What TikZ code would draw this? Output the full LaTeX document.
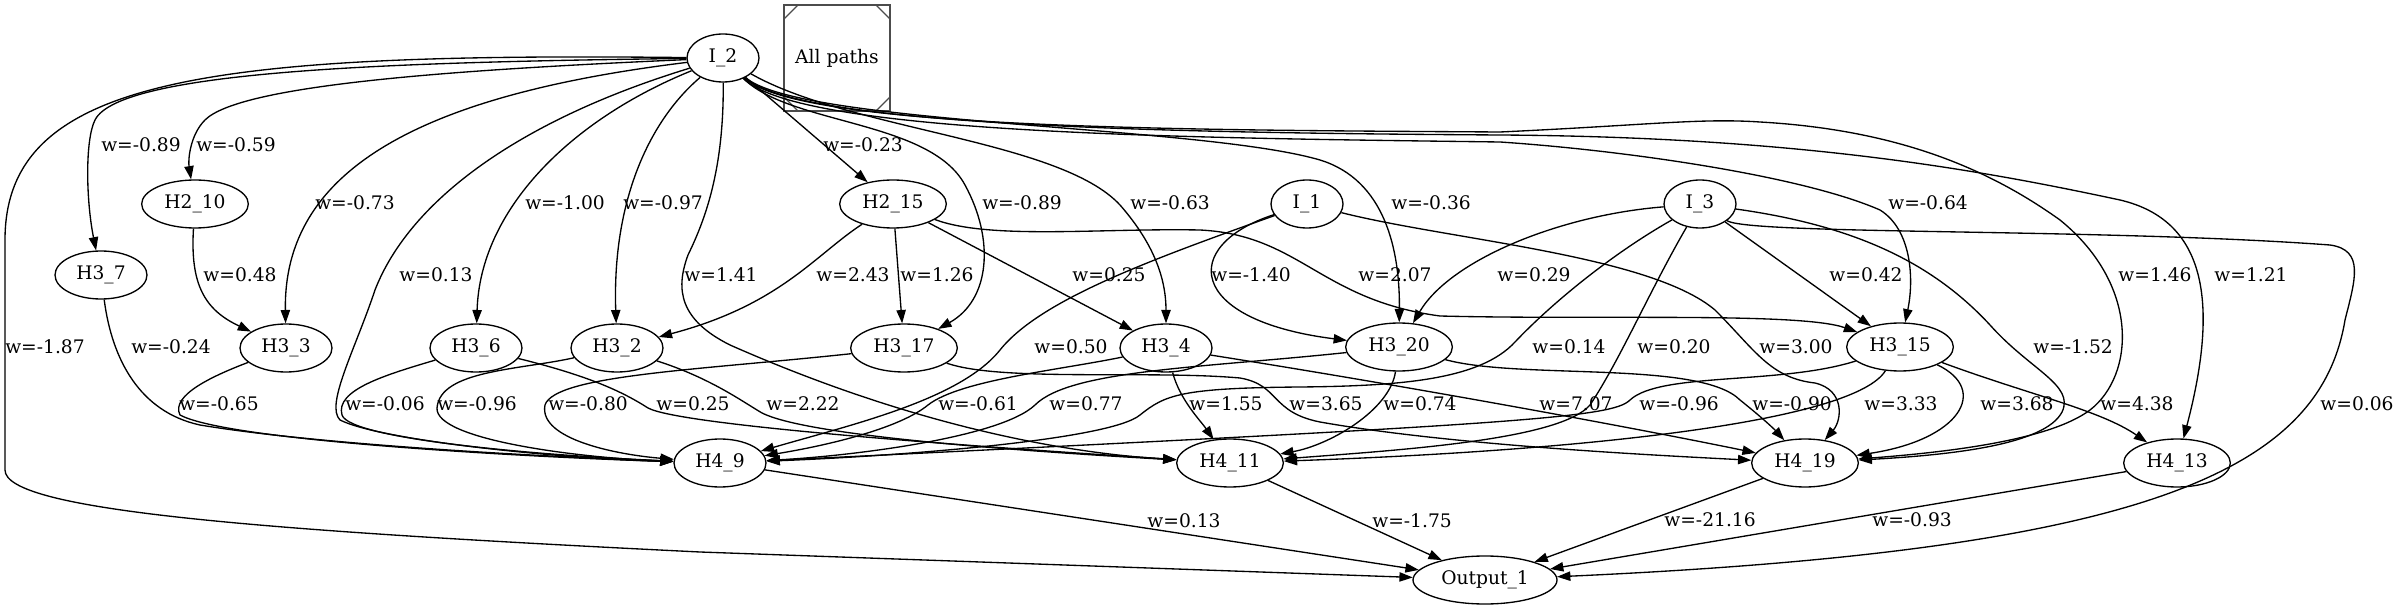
\documentclass[tikz,border=0pt]{standalone}
\usepackage{fontspec}
\setmainfont{DejaVu Serif}
\usetikzlibrary{shapes.geometric,arrows.meta}
\begin{document}
\begin{tikzpicture}[x=0.75pt,y=-0.75pt,
  every node/.style={font=\fontsize{14pt}{16pt}\selectfont},
  nd/.style={draw,ellipse,line width=1pt,inner sep=0pt,minimum height=36pt},
  nfour/.style={nd,minimum width=69pt},
  nfive/.style={nd,minimum width=80pt},
  ninp/.style={nd,minimum width=54pt},
  lab/.style={inner sep=0pt},
  wire/.style={draw,line width=1pt,-{Triangle[length=10pt,width=7pt]}}
]
\useasboundingbox (0,0) rectangle (2401,609);

% nodes
\node[ninp] (I2) at (723,58) {I\_2};
\node[draw=black!70,line width=1.3pt,minimum width=80pt,minimum height=80pt,inner sep=0pt,outer sep=0pt] (box) at (837,58) {All paths};
\draw[black!70,line width=1pt] ([yshift=-11pt]box.north west) -- ([xshift=11pt]box.north west);
\draw[black!70,line width=1pt] ([yshift=-11pt]box.north east) -- ([xshift=-11pt]box.north east);
\draw[black!70,line width=1pt] ([yshift=11pt]box.south west) -- ([xshift=11pt]box.south west);
\draw[black!70,line width=1pt] ([yshift=11pt]box.south east) -- ([xshift=-11pt]box.south east);

\node[nfive] (H210) at (195,204) {H2\_10};
\node[nfour] (H37) at (101,275) {H3\_7};
\node[nfour] (H33) at (286,348) {H3\_3};
\node[nfour] (H36) at (476,348) {H3\_6};
\node[nfour] (H32) at (617,348) {H3\_2};
\node[nfive] (H215) at (893,204) {H2\_15};
\node[nfive] (H317) at (904,348) {H3\_17};
\node[nfour] (H34) at (1166,348) {H3\_4};
\node[ninp] (I1) at (1307,204) {I\_1};
\node[nfive] (H320) at (1399,347) {H3\_20};
\node[ninp] (I3) at (1700,204) {I\_3};
\node[nfive] (H315) at (1900,347) {H3\_15};
\node[nfour] (H49) at (720,463) {H4\_9};
\node[nfive] (H411) at (1230,463) {H4\_11};
\node[nfive] (H419) at (1805,463) {H4\_19};
\node[nfive] (H413) at (2177,463) {H4\_13};
\node[nd,minimum width=108pt] (Out) at (1485,580) {Output\_1};

% edges from I_2
\draw[wire] (I2) .. controls (400,62) and (120,70) .. (95,120) .. controls (85,140) and (86,200) .. (H37);
\draw[wire] (I2) .. controls (450,70) and (240,85) .. (205,120) .. controls (190,135) and (188,160) .. (H210);
\draw[wire] (I2) .. controls (420,95) and (283,170) .. (H33);
\draw[wire] (I2) .. controls (520,120) and (410,200) .. (375,290) .. controls (355,350) and (325,405) .. (340,420) .. controls (380,440) and (550,458) .. (H49);
\draw[wire] (I2) .. controls (570,120) and (480,210) .. (H36);
\draw[wire] (I2) .. controls (650,120) and (612,200) .. (H32);
\draw[wire] (I2) .. controls (724,170) and (705,220) .. (688,255) .. controls (675,290) and (680,320) .. (730,345) .. controls (900,420) and (1050,452) .. (H411);
\draw[wire] (I2) -- (H215);
\draw[wire] (I2) .. controls (790,125) and (930,120) .. (965,185) .. controls (995,240) and (990,300) .. (H317);
\draw[wire] (I2) .. controls (850,130) and (1060,140) .. (1120,205) .. controls (1155,245) and (1166,280) .. (H34);
\draw[wire] (I2) .. controls (800,125) and (1200,125) .. (1320,160) .. controls (1385,180) and (1400,250) .. (H320);
\draw[wire] (I2) .. controls (800,135) and (1200,138) .. (1500,142) .. controls (1620,150) and (1800,175) .. (1880,210) .. controls (1912,230) and (1914,280) .. (H315);
\draw[wire] (I2) .. controls (800,130) and (1200,130) .. (1500,132) .. controls (1650,125) and (1700,118) .. (1760,122) .. controls (1900,130) and (1990,170) .. (2060,220) .. controls (2140,285) and (2135,375) .. (2090,410) .. controls (2050,440) and (1950,452) .. (H419);
\draw[wire] (I2) .. controls (800,128) and (1200,133) .. (1500,135) .. controls (1800,137) and (1980,170) .. (2120,200) .. controls (2205,220) and (2220,300) .. (H413);
\draw[wire] (I2) .. controls (200,52) and (5,80) .. (5,240) -- (5,470) .. controls (5,510) and (250,530) .. (700,552) -- (Out);

% layer 2/3 edges
\draw[wire] (H210) .. controls (190,285) and (205,310) .. (H33);
\draw[wire] (H37) .. controls (112,360) and (140,412) .. (200,425) .. controls (320,445) and (550,457) .. (H49);
\draw[wire] (H33) .. controls (215,375) and (170,395) .. (180,415) .. controls (230,442) and (550,458) .. (H49);
\draw[wire] (H36) .. controls (385,375) and (335,390) .. (342,415) .. controls (350,440) and (550,456) .. (H49);
\draw[wire] (H36) .. controls (585,375) and (620,390) .. (648,408) .. controls (680,425) and (950,445) .. (H411);
\draw[wire] (H32) .. controls (520,370) and (440,370) .. (437,408) .. controls (435,440) and (580,458) .. (H49);
\draw[wire] (H32) .. controls (710,378) and (740,400) .. (762,413) .. controls (800,432) and (950,447) .. (H411);
\draw[wire] (H215) .. controls (815,255) and (780,305) .. (H32);
\draw[wire] (H215) -- (H317);
\draw[wire] (H215) -- (H34);
\draw[wire] (H215) .. controls (990,240) and (1100,228) .. (1200,230) .. controls (1300,235) and (1320,300) .. (1440,316) .. controls (1600,320) and (1800,312) .. (H315);
\draw[wire] (H317) .. controls (700,370) and (555,375) .. (545,405) .. controls (538,440) and (620,455) .. (H49);
\draw[wire] (H317) .. controls (1000,382) and (1150,370) .. (1240,378) .. controls (1280,385) and (1270,412) .. (1320,422) .. controls (1450,445) and (1650,455) .. (H419);
\draw[wire] (H34) .. controls (1060,370) and (960,380) .. (928,405) .. controls (900,428) and (830,445) .. (H49);
\draw[wire] (H34) .. controls (1180,400) and (1200,420) .. (H411);
\draw[wire] (H34) .. controls (1400,385) and (1620,425) .. (H419);
\draw[wire] (I1) .. controls (1150,260) and (1040,300) .. (1000,350) .. controls (960,400) and (850,425) .. (H49);
\draw[wire] (I1) .. controls (1180,245) and (1185,320) .. (H320);
\draw[wire] (I1) .. controls (1450,240) and (1650,255) .. (1715,310) .. controls (1755,350) and (1770,378) .. (1815,383) .. controls (1845,390) and (1842,420) .. (H419);
\draw[wire] (H320) .. controls (1200,368) and (1070,370) .. (1035,405) .. controls (1000,438) and (850,456) .. (H49);
\draw[wire] (H320) .. controls (1390,410) and (1330,445) .. (H411);
\draw[wire] (H320) .. controls (1520,380) and (1700,360) .. (1740,400) .. controls (1765,420) and (1775,430) .. (H419);
\draw[wire] (I3) .. controls (1560,215) and (1450,260) .. (H320);
\draw[wire] (I3) .. controls (1610,255) and (1550,305) .. (1515,342) .. controls (1480,380) and (1400,386) .. (1300,387) .. controls (1180,388) and (1165,395) .. (1140,415) .. controls (1110,440) and (900,456) .. (H49);
\draw[wire] (I3) .. controls (1650,290) and (1620,360) .. (1590,405) .. controls (1560,440) and (1400,450) .. (H411);
\draw[wire] (I3) -- (H315);
\draw[wire] (I3) .. controls (1850,225) and (1930,260) .. (1990,325) .. controls (2030,370) and (2075,385) .. (2062,412) .. controls (2045,445) and (1950,455) .. (H419);
\draw[wire] (I3) .. controls (1750,235) and (2100,228) .. (2330,245) .. controls (2365,250) and (2355,280) .. (2345,320) .. controls (2320,470) and (2150,550) .. (Out);
\draw[wire] (H315) .. controls (1780,385) and (1660,372) .. (1630,400) .. controls (1612,418) and (1520,424) .. (H49);
\draw[wire] (H315) .. controls (1855,420) and (1600,450) .. (H411);
\draw[wire] (H315) .. controls (1990,390) and (1960,440) .. (H419);
\draw[wire] (H315) .. controls (2030,395) and (2100,410) .. (H413);
\draw[wire] (H49) -- (Out);
\draw[wire] (H411) -- (Out);
\draw[wire] (H419) -- (Out);
\draw[wire] (H413) -- (Out);

% labels
\node[lab] (a1) at (141,145) {w=-0.89};
\node[lab] (a2) at (236,145) {w=-0.59};
\node[lab] (a3) at (355,203) {w=-0.73};
\node[lab] (a4) at (565,203) {w=-1.00};
\node[lab] (a5) at (663,203) {w=-0.97};
\node[lab] (a6) at (436,275) {w=0.13};
\node[lab] (a7) at (721,275) {w=1.41};
\node[lab] (a8) at (240,275) {w=0.48};
\node[lab] (a9) at (45,347) {w=-1.87};
\node[lab] (a10) at (171,347) {w=-0.24};
\node[lab] (a11) at (219,404) {w=-0.65};
\node[lab] (a12) at (385,404) {w=-0.06};
\node[lab] (a13) at (477,404) {w=-0.96};
\node[lab] (a14) at (588,404) {w=-0.80};
\node[lab] (a15) at (693,404) {w=0.25};
\node[lab] (a16) at (803,404) {w=2.22};
\node[lab] (a17) at (863,145) {w=-0.23};
\node[lab] (a18) at (1022,203) {w=-0.89};
\node[lab] (a19) at (1170,203) {w=-0.63};
\node[lab] (a20) at (1431,203) {w=-0.36};
\node[lab] (a21) at (853,275) {w=2.43};
\node[lab] (a22) at (937,275) {w=1.26};
\node[lab] (a23) at (1109,275) {w=0.25};
\node[lab] (a24) at (1251,275) {w=-1.40};
\node[lab] (a25) at (1395,275) {w=2.07};
\node[lab] (a26) at (1071,347) {w=0.50};
\node[lab] (a27) at (978,404) {w=-0.61};
\node[lab] (a28) at (1086,404) {w=0.77};
\node[lab] (a29) at (1226,404) {w=1.55};
\node[lab] (a30) at (1326,404) {w=3.65};
\node[lab] (a31) at (1420,404) {w=0.74};
\node[lab] (a32) at (1184,521) {w=0.13};
\node[lab] (a33) at (1412,521) {w=-1.75};
\node[lab] (a34) at (1928,203) {w=-0.64};
\node[lab] (a35) at (1866,275) {w=0.42};
\node[lab] (a36) at (2155,275) {w=1.46};
\node[lab] (a37) at (2251,275) {w=1.21};
\node[lab] (a38) at (1534,275) {w=0.29};
\node[lab] (a39) at (1569,347) {w=0.14};
\node[lab] (a40) at (1674,347) {w=0.20};
\node[lab] (a41) at (1796,347) {w=3.00};
\node[lab] (a42) at (2073,347) {w=-1.52};
\node[lab] (a43) at (1576,404) {w=7.07};
\node[lab] (a44) at (1679,404) {w=-0.96};
\node[lab] (a45) at (1792,404) {w=-0.90};
\node[lab] (a46) at (1901,404) {w=3.33};
\node[lab] (a47) at (2017,404) {w=3.68};
\node[lab] (a48) at (2137,404) {w=4.38};
\node[lab] (a49) at (2357,404) {w=0.06};
\node[lab] (a50) at (1710,520) {w=-21.16};
\node[lab] (a51) at (1912,520) {w=-0.93};
\end{tikzpicture}
\end{document}
